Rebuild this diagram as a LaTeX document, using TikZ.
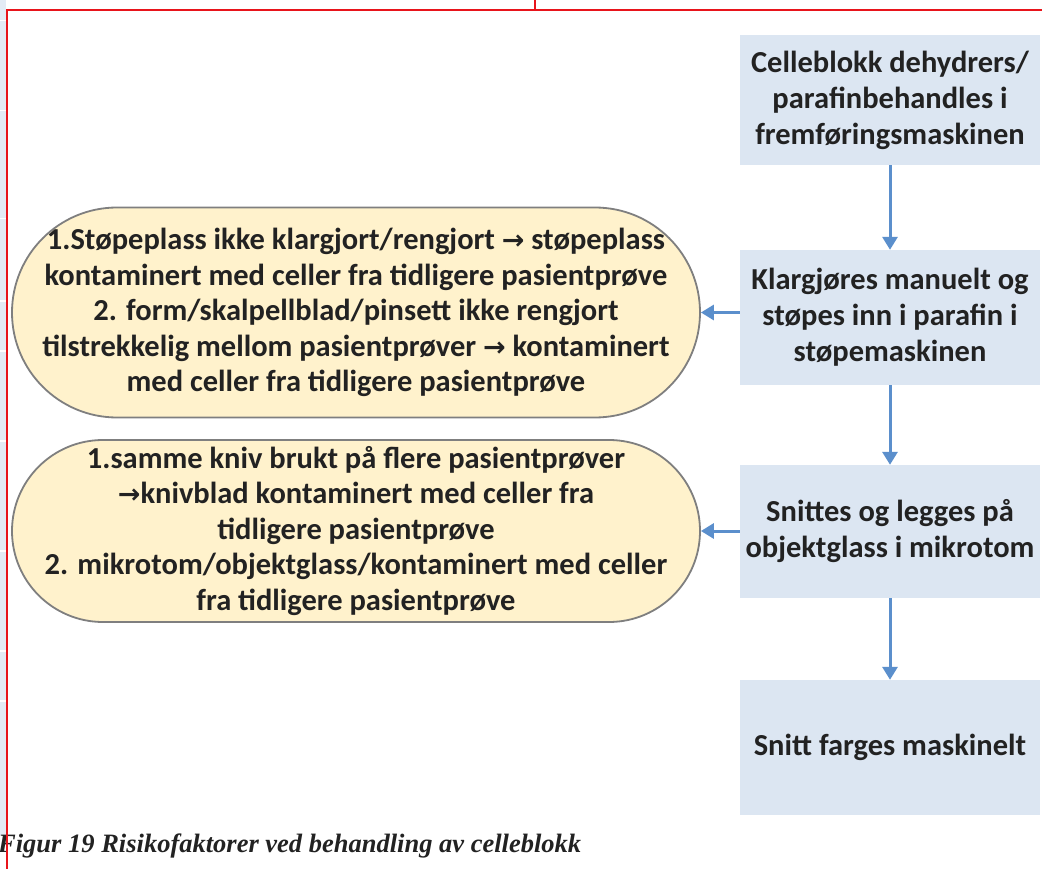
\documentclass[tikz,border=0pt]{standalone}
\usepackage{fontspec}
\setmainfont{Carlito}
\newfontfamily\symfont{DejaVu Sans}
\newfontfamily\capfont{Liberation Serif}
\usetikzlibrary{arrows.meta}
\newcommand{\rarr}{{\symfont\bfseries\fontsize{27}{36}\selectfont →}}
\definecolor{boxfill}{HTML}{DCE6F2}
\definecolor{riskfill}{HTML}{FFF2CC}
\definecolor{riskline}{HTML}{7F7F7F}
\definecolor{flow}{HTML}{5B8FCC}
\definecolor{txt}{HTML}{222222}
\definecolor{frame}{HTML}{E8141B}
\tikzset{
  stepbox/.style={fill=boxfill, draw=none, minimum width=300pt,
    align=center, font=\bfseries\fontsize{30.5}{36}\selectfont, text=txt, inner sep=0pt},
  riskbox/.style={rectangle, fill=riskfill, draw=riskline, line width=1.8pt,
    minimum width=688pt,
    align=center, font=\bfseries\fontsize{30.5}{35.5}\selectfont, text=txt, inner sep=0pt},
  flowarrow/.style={draw=flow, line width=3pt, -{Triangle[width=15pt,length=13pt]}}
}
\begin{document}
\begin{tikzpicture}[x=1pt,y=-1pt]
\useasboundingbox (0,0) rectangle (1042,869);
\fill[white] (0,0) rectangle (1042,869);
% pale strip along the left edge
\fill[boxfill!80] (0,0) rectangle (6,835);
\foreach \g in {20,110,218,300,350,440,550,650,700}
  \fill[white] (0,\g) rectangle (6,\g+1.5);

% process steps
\node[stepbox, minimum height=130pt] (s1) at (890,100)
  {Celleblokk dehydrers/\\parafinbehandles i\\fremføringsmaskinen};
\node[stepbox, minimum height=135pt] (s2) at (890,317.5)
  {Klargjøres manuelt og\\støpes inn i parafin i\\støpemaskinen};
\node[stepbox, minimum height=133pt] (s3) at (890,531.5)
  {Snittes og legges på\\objektglass i mikrotom};
\node[stepbox, minimum height=135pt] (s4) at (890,747.5)
  {Snitt farges maskinelt};

% risk factors (stadium outlines)
\node[riskbox, minimum height=210pt, rounded corners=105pt] (r1) at (356,312.5)
  {1.Støpeplass ikke klargjort/rengjort \rarr{} støpeplass\\
   kontaminert med celler fra tidligere pasientprøve\\
   2. form/skalpellblad/pinsett ikke rengjort\\
   tilstrekkelig mellom pasientprøver \rarr{} kontaminert\\
   med celler fra tidligere pasientprøve};
\node[riskbox, minimum height=182pt, rounded corners=91pt] (r2) at (356,531)
  {1.samme kniv brukt på flere pasientprøver\\
   \rarr{}knivblad kontaminert med celler fra\\
   tidligere pasientprøve\\
   2. mikrotom/objektglass/kontaminert med celler\\
   fra tidligere pasientprøve};

% connectors
\draw[flowarrow] (s1.south) -- (s2.north);
\draw[flowarrow] (s2.south) -- (s3.north);
\draw[flowarrow] (s3.south) -- (s4.north);
\draw[flowarrow] (r1.east -| s2.west) -- (r1.east);
\draw[flowarrow] (r2.east -| s3.west) -- (r2.east);

% caption
\node[anchor=base west, inner sep=0pt, text=txt,
  font=\capfont\bfseries\itshape\fontsize{26.5}{30}\selectfont] (cap) at (-2,852)
  {Figur 19 Risikofaktorer ved behandling av celleblokk};

% red frame
\draw[frame, line width=1.8pt] (7,869) -- (7,10) -- (1042,10);
\draw[frame, line width=1.8pt] (535,0) -- (535,10);
\end{tikzpicture}
\end{document}
